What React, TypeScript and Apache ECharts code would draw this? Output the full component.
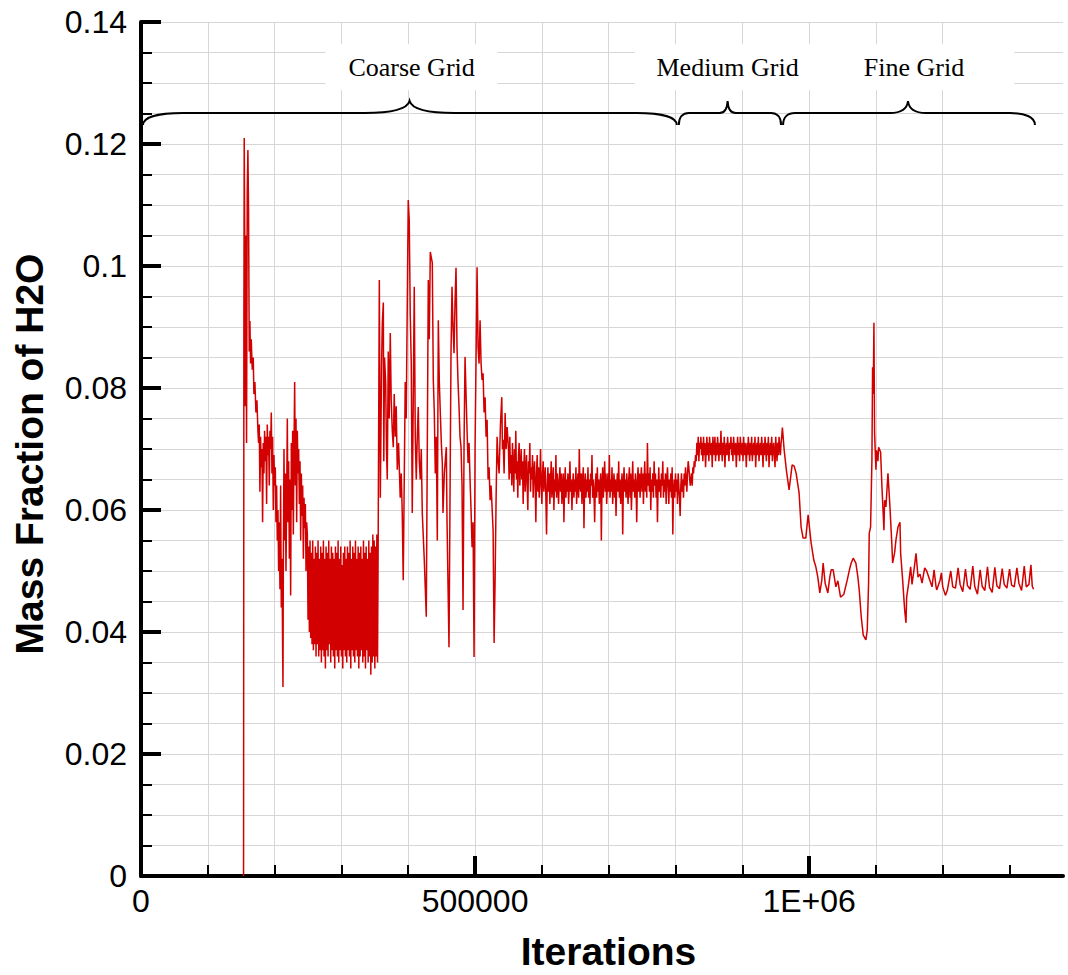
import React, { useEffect, useRef } from 'react';
import * as echarts from 'echarts';

// x values are in thousands of iterations
const ITER_UNIT = 1000;

const xMajorTicks = [0, 500000, 1000000];
const xTickLabels = ['0', '500000', '1E+06'];
const xMinorTicks = [0, 100000, 200000, 300000, 400000, 500000, 600000, 700000, 800000, 900000, 1000000, 1100000, 1200000, 1300000];

// Coarse grid: initial spike and transient
const coarseEarly: [number, number][] = [
  [153.5, 0], [154, 0.09], [154.5, 0.121], [155.5, 0.1], [156, 0.077], [157, 0.105], [158, 0.071], [159, 0.112], [160, 0.119], [161, 0.109],
  [162, 0.086], [163, 0.091], [164, 0.084], [165, 0.088], [166.5, 0.083], [168, 0.085], [169, 0.079], [170.5, 0.081], [172, 0.076], [173.5, 0.078],
  [175, 0.073], [176, 0.071], [177, 0.074], [178, 0.063], [179, 0.072], [180, 0.067], [181, 0.07], [182, 0.058], [183, 0.071], [184, 0.066],
  [185, 0.073], [186, 0.068], [187, 0.072], [188, 0.061], [189, 0.074], [190, 0.069], [191, 0.072], [192, 0.064], [193, 0.073], [194, 0.07],
  [195, 0.076], [196, 0.066], [197, 0.072], [198, 0.06], [199, 0.069], [200, 0.064], [201, 0.067], [202, 0.058], [203, 0.064], [204, 0.055],
  [205, 0.06], [206, 0.05], [207, 0.058], [208, 0.047], [209, 0.064], [210, 0.044], [211, 0.052], [212, 0.037], [212.5, 0.031], [213, 0.05],
  [214, 0.07], [215, 0.055], [216, 0.066], [217, 0.05], [218, 0.062], [219, 0.075], [220, 0.058], [221, 0.068], [222, 0.052], [223, 0.065],
  [224, 0.046], [225, 0.071], [226, 0.06], [227, 0.073], [228, 0.056], [229, 0.07], [230, 0.081], [231, 0.064], [232, 0.075], [233, 0.058],
  [234, 0.073], [235, 0.066], [236, 0.07], [237, 0.061], [238, 0.068], [239, 0.055], [240, 0.066], [241, 0.059], [242, 0.064], [243, 0.052],
  [244, 0.062], [245, 0.057], [246, 0.061], [247, 0.05], [248, 0.058],
];

// Coarse grid: rapidly oscillating block, one value every 1k iterations from 249k
const coarseBlockStart = 249;
const coarseBlockStep = 1;
const coarseBlock = [
  0.056, 0.042, 0.054, 0.040, 0.055, 0.039, 0.053, 0.038, 0.055, 0.037, 0.052, 0.038, 0.054, 0.036, 0.053, 0.038, 0.055, 0.036, 0.052, 0.037,
  0.054, 0.035, 0.053, 0.037, 0.055, 0.036, 0.052, 0.034, 0.054, 0.037, 0.053, 0.036, 0.055, 0.038, 0.052, 0.035, 0.054, 0.037, 0.053, 0.036,
  0.052, 0.034, 0.054, 0.037, 0.053, 0.036, 0.055, 0.035, 0.052, 0.037, 0.054, 0.036, 0.051, 0.034, 0.053, 0.037, 0.054, 0.036, 0.052, 0.035,
  0.054, 0.037, 0.053, 0.036, 0.055, 0.034, 0.052, 0.037, 0.054, 0.036, 0.053, 0.035, 0.055, 0.037, 0.052, 0.036, 0.054, 0.034, 0.053, 0.036,
  0.054, 0.037, 0.052, 0.035, 0.055, 0.036, 0.053, 0.034, 0.054, 0.037, 0.052, 0.035, 0.055, 0.036, 0.053, 0.033, 0.054, 0.035, 0.056, 0.036,
  0.055, 0.034, 0.054, 0.036, 0.056, 0.035, 0.055,
];

// Coarse grid: large spikes after the block
const coarseLate: [number, number][] = [
  [356.7, 0.0977], [358.2, 0.062], [360, 0.083], [361.2, 0.0907], [362.7, 0.094], [363.4, 0.068], [364.5, 0.085], [366.2, 0.081], [367.4, 0.07], [368.6, 0.065],
  [370.1, 0.086], [371.5, 0.075], [373.1, 0.089], [374.5, 0.078], [376.1, 0.073], [377.6, 0.0703], [379, 0.079], [380.6, 0.072], [382, 0.077], [383.6, 0.0666],
  [385.5, 0.071], [388, 0.062], [389.5, 0.066], [391, 0.0595], [392.5, 0.0485], [395.5, 0.081], [397, 0.075], [398.5, 0.0933], [400, 0.1108], [401.5, 0.1075],
  [403, 0.092], [404.5, 0.084], [406, 0.0595], [407.5, 0.078], [409, 0.0966], [410.5, 0.072], [412, 0.065], [413.5, 0.072], [415, 0.0769], [416.5, 0.068],
  [418, 0.065], [419.5, 0.07], [421, 0.0595], [424, 0.0518], [427, 0.0425], [430, 0.0977], [431.5, 0.088], [433, 0.1023], [436, 0.1005], [437.5, 0.0813],
  [439, 0.076], [440.5, 0.066], [442, 0.072], [443.5, 0.055], [445, 0.0911], [446.5, 0.081], [448, 0.0759], [449.5, 0.071], [451, 0.0677], [452, 0.0595],
  [454, 0.066], [457, 0.0703], [458, 0.0584], [461, 0.0375], [464, 0.0857], [465.5, 0.0966], [467, 0.09], [468.5, 0.0857], [470, 0.094], [471.5, 0.0997],
  [473, 0.0867], [474.5, 0.081], [476, 0.0769], [477.5, 0.072], [479, 0.0703], [480.5, 0.064], [482, 0.0436], [483.5, 0.0703], [485, 0.0851], [486.5, 0.079],
  [488, 0.0731], [489.5, 0.0677], [491, 0.071], [492.5, 0.065], [494, 0.06], [495.5, 0.0539], [497, 0.058], [498.5, 0.0359], [500, 0.07], [501.5, 0.0851],
  [503, 0.0998], [504.5, 0.0867], [506, 0.084], [507.5, 0.0911], [509, 0.084], [510.5, 0.0813], [512, 0.0824], [513.5, 0.076], [515, 0.0785], [516.5, 0.072],
  [518, 0.0748], [519.5, 0.065], [521, 0.067], [522.5, 0.0616], [524, 0.064], [527, 0.0567], [528.5, 0.0382], [530, 0.0485], [531.5, 0.062], [533, 0.072],
  [534.5, 0.068], [536, 0.066], [538, 0.074], [540, 0.0785], [541, 0.07], [542, 0.0715], [543.5, 0.066], [545, 0.0759], [546.5, 0.07], [548, 0.0736],
];

// Coarse grid: noisy plateau, one value every 1k iterations from 550k
const coarsePlateauStart = 550;
const coarsePlateauStep = 1;
const coarsePlateau = [
  0.070, 0.065, 0.072, 0.066, 0.069, 0.064, 0.071, 0.067, 0.063, 0.070, 0.066, 0.073, 0.065, 0.068, 0.062, 0.069, 0.071, 0.064, 0.067, 0.070,
  0.065, 0.068, 0.061, 0.067, 0.070, 0.063, 0.066, 0.069, 0.064, 0.060, 0.068, 0.066, 0.071, 0.063, 0.067, 0.065, 0.069, 0.062, 0.066, 0.068,
  0.064, 0.058, 0.066, 0.069, 0.063, 0.067, 0.062, 0.065, 0.070, 0.064, 0.061, 0.066, 0.068, 0.063, 0.065, 0.067, 0.062, 0.056, 0.064, 0.067,
  0.063, 0.066, 0.061, 0.065, 0.068, 0.062, 0.064, 0.067, 0.060, 0.065, 0.063, 0.069, 0.062, 0.066, 0.064, 0.061, 0.065, 0.067, 0.063, 0.066,
  0.061, 0.064, 0.066, 0.058, 0.064, 0.067, 0.062, 0.065, 0.063, 0.066, 0.061, 0.064, 0.068, 0.063, 0.065, 0.060, 0.064, 0.066, 0.062, 0.065,
  0.063, 0.067, 0.061, 0.064, 0.066, 0.062, 0.070, 0.064, 0.063, 0.066, 0.061, 0.065, 0.067, 0.057, 0.064, 0.066, 0.062, 0.065, 0.063, 0.067,
  0.062, 0.065, 0.061, 0.066, 0.064, 0.069, 0.062, 0.065, 0.063, 0.058, 0.064, 0.066, 0.062, 0.067, 0.063, 0.065, 0.061, 0.064, 0.066, 0.055,
  0.064, 0.067, 0.062, 0.065, 0.068, 0.063, 0.066, 0.061, 0.064, 0.066, 0.063, 0.069, 0.062, 0.065, 0.063, 0.067, 0.061, 0.064, 0.066, 0.062,
  0.065, 0.059, 0.064, 0.066, 0.063, 0.068, 0.062, 0.065, 0.061, 0.064, 0.066, 0.056, 0.064, 0.067, 0.063, 0.065, 0.062, 0.066, 0.064, 0.061,
  0.065, 0.067, 0.062, 0.066, 0.060, 0.064, 0.068, 0.063, 0.065, 0.062, 0.066, 0.064, 0.058, 0.065, 0.067, 0.063, 0.066, 0.062, 0.065, 0.067,
  0.063, 0.066, 0.061, 0.065, 0.068, 0.063, 0.066, 0.062, 0.071, 0.064, 0.066, 0.063, 0.067, 0.060, 0.065, 0.063, 0.066, 0.062, 0.068, 0.064,
  0.066, 0.062, 0.065, 0.058, 0.064, 0.067, 0.063, 0.065, 0.062, 0.066, 0.064, 0.068, 0.062, 0.065, 0.063, 0.066, 0.061, 0.065, 0.067, 0.064,
  0.061, 0.065, 0.063, 0.066, 0.062, 0.067, 0.056, 0.063, 0.065, 0.062, 0.066, 0.063, 0.065, 0.061, 0.066, 0.064, 0.062, 0.059, 0.064, 0.066,
  0.063, 0.065, 0.062, 0.066, 0.064, 0.067, 0.065, 0.063, 0.066, 0.068, 0.067,
];

// Medium grid, one value every 1k iterations from 822k
const mediumStart = 822;
const mediumStep = 1;
const mediumGrid = [
  0.064, 0.065, 0.066, 0.064, 0.067, 0.066, 0.068, 0.067, 0.069, 0.068, 0.071, 0.069, 0.072, 0.068, 0.071, 0.070, 0.072, 0.069, 0.071, 0.068,
  0.072, 0.069, 0.071, 0.067, 0.070, 0.072, 0.069, 0.071, 0.068, 0.072, 0.070, 0.069, 0.071, 0.067, 0.072, 0.070, 0.069, 0.072, 0.068, 0.071,
  0.069, 0.072, 0.070, 0.068, 0.071, 0.069, 0.073, 0.070, 0.068, 0.071, 0.069, 0.072, 0.067, 0.070, 0.071, 0.069, 0.072, 0.070, 0.068, 0.071,
  0.070, 0.072, 0.069, 0.071, 0.068, 0.072, 0.070, 0.069, 0.071, 0.067, 0.070, 0.072, 0.069, 0.071, 0.068, 0.072, 0.070, 0.069, 0.071, 0.068,
  0.072, 0.069, 0.071, 0.070, 0.067, 0.071, 0.069, 0.072, 0.070, 0.068, 0.071, 0.069, 0.072, 0.068, 0.070, 0.071, 0.069, 0.072, 0.067, 0.070,
  0.071, 0.069, 0.072, 0.068, 0.070, 0.071, 0.069, 0.072, 0.070, 0.067, 0.071, 0.069, 0.072, 0.070, 0.068, 0.071, 0.069, 0.072, 0.067, 0.070,
  0.071, 0.069, 0.072, 0.068, 0.070, 0.071, 0.069, 0.067, 0.072, 0.070, 0.068, 0.071, 0.069, 0.072, 0.070, 0.069, 0.071, 0.072, 0.0735,
];

// Fine grid
const fineGrid: [number, number][] = [
  [962.7, 0.0698], [966, 0.0665], [970, 0.0633], [974.6, 0.0674], [977.6, 0.0672], [980.6, 0.066], [985, 0.0628], [988, 0.0572], [991, 0.0554], [995, 0.0554],
  [998.5, 0.0592], [1003, 0.0546], [1007, 0.0518], [1010, 0.0507], [1013, 0.049], [1016, 0.0464], [1019, 0.0485], [1021, 0.0513], [1024, 0.048], [1028, 0.0464],
  [1031, 0.049], [1033, 0.0502], [1036, 0.0502], [1040, 0.0474], [1043, 0.0484], [1047, 0.0457], [1052, 0.0462], [1057, 0.0485], [1061, 0.0505], [1063, 0.0513],
  [1066, 0.0521], [1070, 0.0513], [1073, 0.049], [1075, 0.0469], [1078, 0.0425], [1081, 0.0395], [1085, 0.0387], [1087, 0.0403], [1089, 0.048], [1090, 0.0562],
  [1092, 0.0572], [1094, 0.0682], [1095, 0.0834], [1096, 0.079], [1097, 0.0907], [1098, 0.0726], [1100, 0.0666], [1101, 0.0698], [1103, 0.068], [1104, 0.0703],
  [1107, 0.0695], [1109, 0.0638], [1112, 0.0567], [1113, 0.0616], [1115, 0.0605], [1118, 0.066], [1121, 0.0605], [1124, 0.054], [1125, 0.0513], [1128, 0.053],
  [1130, 0.0551], [1133, 0.0572], [1136, 0.058], [1137, 0.0529], [1140, 0.0485], [1143, 0.0436], [1145, 0.0415], [1146, 0.0457], [1149, 0.048], [1152, 0.0507],
  [1154, 0.0478], [1157, 0.0502], [1160, 0.0529], [1163, 0.049], [1166, 0.0495], [1169, 0.048], [1173, 0.0505], [1176, 0.05], [1179, 0.049], [1184, 0.0474],
  [1187, 0.0502], [1190, 0.0474], [1191, 0.0469], [1196, 0.0485], [1198, 0.0497], [1200, 0.0474], [1204, 0.046], [1207, 0.0469], [1212, 0.05], [1215, 0.0474],
  [1219, 0.0472], [1223, 0.0505], [1226, 0.0478], [1230, 0.0466], [1234, 0.0503], [1237, 0.0476], [1241, 0.047], [1245, 0.0508], [1248, 0.0474], [1252, 0.0462],
  [1256, 0.0502], [1259, 0.0475], [1263, 0.0468], [1267, 0.0507], [1270, 0.0473], [1274, 0.0465], [1278, 0.0506], [1281, 0.0476], [1285, 0.0471], [1289, 0.0504],
  [1292, 0.0478], [1296, 0.0472], [1300, 0.0503], [1303, 0.0477], [1307, 0.0474], [1311, 0.0505], [1314, 0.048], [1318, 0.0468], [1322, 0.0508], [1325, 0.0474],
  [1329, 0.0478], [1332, 0.051], [1334, 0.0475], [1336, 0.047],
];

// Grid-refinement annotations (iterations)
const sectionNames = ['Coarse Grid', 'Medium Grid', 'Fine Grid'];
const sectionStart = [0, 802000, 958000];
const sectionEnd = [802000, 958000, 1338000];
const sectionTip = [402000, 878000, 1148000];
const sectionLabelX = [405000, 878000, 1160000];
const braceLevel = 0.12508;
const labelLevel = 0.1326;

// styles for braces/labels (pixels)
const braceCurves = [[40, 45, 40], [10, 8, 10], [12, 18, 25]];
const labelPads = [[10, 23], [10, 22], [10, 50, 10, 46]];

const FONT = '"Liberation Sans", Arial, Helvetica, sans-serif';

function buildData() {
  const pts = (arr: [number, number][]) => arr.map(([k, v]) => [k * ITER_UNIT, v]);
  const regular = (start: number, step: number, vals: number[]) =>
    vals.map((v, i) => [(start + i * step) * ITER_UNIT, v]);
  return [
    ...pts(coarseEarly),
    ...regular(coarseBlockStart, coarseBlockStep, coarseBlock),
    ...pts(coarseLate),
    ...regular(coarsePlateauStart, coarsePlateauStep, coarsePlateau),
    ...regular(mediumStart, mediumStep, mediumGrid),
    ...pts(fineGrid),
  ];
}

export default function App() {
  const ref = useRef<HTMLDivElement>(null);
  useEffect(() => {
    if (!ref.current) return;
    const chart = echarts.init(ref.current, null, { renderer: 'svg' });
    const braceData = sectionNames.map((_, i) => [
      sectionStart[i], sectionTip[i], sectionEnd[i], braceLevel, sectionLabelX[i], labelLevel,
    ]);
    const xMax = 1380000;
    const option: any = {
      animation: false,
      backgroundColor: '#ffffff',
      grid: {
        left: 141, top: 22, width: 922, height: 854,
        containLabel: false, outerBoundsMode: 'none',
      },
      xAxis: [
        {
          type: 'value', min: 0, max: xMax, interval: 100000, position: 'bottom',
          axisLine: { show: false },
          axisTick: { show: true, inside: true, length: 11, lineStyle: { color: '#000', width: 2 }, customValues: xMinorTicks },
          axisLabel: { show: false },
          splitLine: { show: true, showMaxLine: false, lineStyle: { color: '#d6d6d6', width: 1 } },
        },
        {
          type: 'value', min: 0, max: xMax, interval: 500000, position: 'bottom',
          axisLine: { show: true, onZero: false, lineStyle: { color: '#000', width: 4 } },
          axisTick: { show: true, inside: true, length: 20, lineStyle: { color: '#000', width: 4 }, customValues: xMajorTicks },
          axisLabel: {
            show: true, margin: 9, color: '#000', fontSize: 32, fontFamily: FONT,
            customValues: xMajorTicks,
            formatter: (v: number) => {
              const i = xMajorTicks.indexOf(v);
              return i >= 0 ? xTickLabels[i] : '';
            },
          },
          splitLine: { show: false },
          name: 'Iterations', nameLocation: 'middle', nameGap: 56,
          nameTextStyle: { color: '#000', fontSize: 39, fontWeight: 'bold', fontFamily: FONT, padding: [0, 0, 0, 13] },
        },
      ],
      yAxis: [
        {
          type: 'value', min: 0, max: 0.14, interval: 0.005, position: 'left',
          axisLine: { show: false },
          axisTick: { show: true, inside: true, length: 11, lineStyle: { color: '#000', width: 2 } },
          axisLabel: { show: false },
          splitLine: { show: true, lineStyle: { color: '#d6d6d6', width: 1 } },
        },
        {
          type: 'value', min: 0, max: 0.14, interval: 0.02, position: 'left',
          axisLine: { show: true, onZero: false, lineStyle: { color: '#000', width: 4 } },
          axisTick: { show: true, inside: true, length: 20, lineStyle: { color: '#000', width: 4 } },
          axisLabel: { show: true, margin: 14, color: '#000', fontSize: 32, fontFamily: FONT },
          splitLine: { show: false },
          name: 'Mass Fraction of H2O', nameLocation: 'middle', nameGap: 92,
          nameTextStyle: { color: '#000', fontSize: 39, fontWeight: 'bold', fontFamily: FONT, padding: [0, 10, 0, 0] },
        },
      ],
      series: [
        {
          type: 'line', xAxisIndex: 0, yAxisIndex: 0,
          data: buildData(),
          showSymbol: false, symbol: 'none',
          lineStyle: { color: '#d20000', width: 1.5 },
          itemStyle: { color: '#d20000' },
          silent: true, z: 3,
        },
        {
          type: 'custom', xAxisIndex: 0, yAxisIndex: 0,
          data: braceData, clip: false, silent: true, z: 4,
          encode: { x: [0, 1, 2, 4], y: [3, 5] },
          renderItem: (params: any, api: any) => {
            const i = params.dataIndex;
            const p0 = api.coord([api.value(0), api.value(3)]);
            const xl = p0[0] + 2;
            const y0 = p0[1];
            const xm = api.coord([api.value(1), api.value(3)])[0];
            const xr = api.coord([api.value(2), api.value(3)])[0];
            const lp = api.coord([api.value(4), api.value(5)]);
            const [cL, cT, cR] = braceCurves[i];
            const d =
              `M ${xl} ${y0 + 12} C ${xl} ${y0 + 4} ${xl + cL * 0.4} ${y0} ${xl + cL} ${y0} ` +
              `L ${xm - cT} ${y0} C ${xm - cT * 0.35} ${y0} ${xm - cT * 0.05} ${y0 - 4} ${xm} ${y0 - 12} ` +
              `C ${xm + cT * 0.05} ${y0 - 4} ${xm + cT * 0.35} ${y0} ${xm + cT} ${y0} ` +
              `L ${xr - cR} ${y0} C ${xr - cR * 0.4} ${y0} ${xr} ${y0 + 4} ${xr} ${y0 + 12}`;
            return {
              type: 'group',
              children: [
                { type: 'path', shape: { pathData: d }, style: { fill: 'none', stroke: '#000', lineWidth: 2 } },
                {
                  type: 'text', x: lp[0], y: lp[1],
                  style: {
                    text: sectionNames[i], align: 'center', verticalAlign: 'middle',
                    font: '26px "Liberation Serif", "Times New Roman", serif', fill: '#000',
                    backgroundColor: '#ffffff', padding: labelPads[i],
                  },
                },
              ],
            };
          },
        },
      ],
    };
    chart.setOption(option);
    return () => chart.dispose();
  }, []);
  return (
    <div
      ref={ref}
      style={{ position: 'absolute', left: 0, top: 0, width: 1068, height: 975, background: '#fff' }}
    />
  );
}
